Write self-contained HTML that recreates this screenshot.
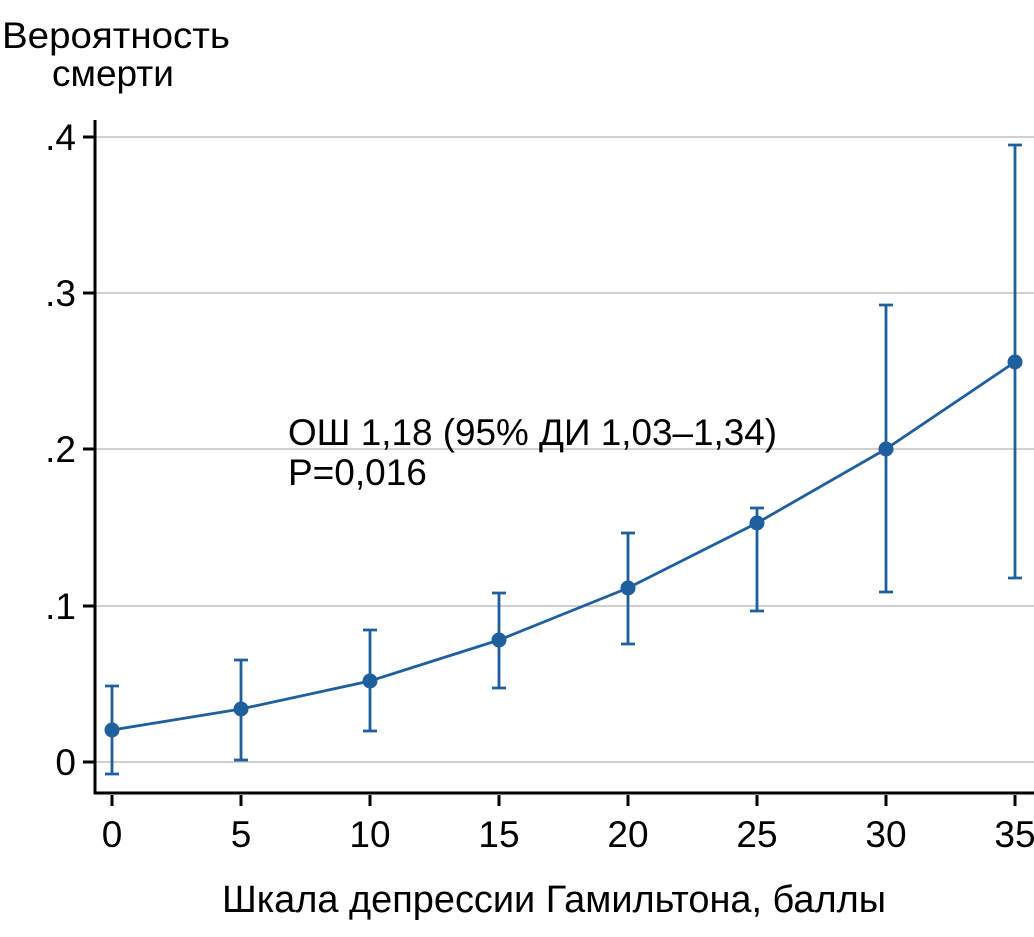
<!DOCTYPE html>
<html><head><meta charset="utf-8"><style>body{margin:0;background:#fff}</style></head><body>
<svg width="1034" height="932" xmlns="http://www.w3.org/2000/svg" font-family="'Liberation Sans', sans-serif">
<rect width="1034" height="932" fill="#fff"/>
<g stroke="#b4b4b4" stroke-width="1.3">
<line x1="96" x2="1034" y1="137" y2="137"/><line x1="96" x2="1034" y1="293" y2="293"/>
<line x1="96" x2="1034" y1="449" y2="449"/><line x1="96" x2="1034" y1="606" y2="606"/>
<line x1="96" x2="1034" y1="762" y2="762"/></g>
<g stroke="#000" stroke-width="3">
<polyline fill="none" points="95,120 95,793 1034,793"/>
<line x1="83" x2="95" y1="137" y2="137"/><line x1="83" x2="95" y1="293" y2="293"/>
<line x1="83" x2="95" y1="449" y2="449"/><line x1="83" x2="95" y1="606" y2="606"/>
<line x1="83" x2="95" y1="762" y2="762"/>
<line x1="112" x2="112" y1="795" y2="806"/><line x1="241" x2="241" y1="795" y2="806"/>
<line x1="370" x2="370" y1="795" y2="806"/><line x1="499" x2="499" y1="795" y2="806"/>
<line x1="628" x2="628" y1="795" y2="806"/><line x1="757" x2="757" y1="795" y2="806"/>
<line x1="886" x2="886" y1="795" y2="806"/><line x1="1015" x2="1015" y1="795" y2="806"/>
</g>
<g font-size="37" fill="#000" text-anchor="end">
<text x="76" y="150">.4</text><text x="76" y="306">.3</text><text x="76" y="462">.2</text><text x="76" y="619">.1</text><text x="76" y="775">0</text></g>
<g font-size="37" fill="#000" text-anchor="middle">
<text x="112" y="847">0</text><text x="241" y="847">5</text><text x="370" y="847">10</text><text x="499" y="847">15</text>
<text x="628" y="847">20</text><text x="757" y="847">25</text><text x="886" y="847">30</text><text x="1015" y="847">35</text>
<text x="554" y="912" font-size="38" textLength="664" lengthAdjust="spacingAndGlyphs">Шкала депрессии Гамильтона, баллы</text></g>
<g font-size="37" fill="#000"><text x="2" y="48" textLength="228" lengthAdjust="spacingAndGlyphs">Вероятность</text><text x="52" y="86">смерти</text>
<text x="288" y="445" textLength="489" lengthAdjust="spacingAndGlyphs">ОШ 1,18 (95% ДИ 1,03–1,34)</text><text x="288" y="485">P=0,016</text></g>
<g stroke="#1f5f9e" stroke-width="2.8" fill="none">
<path d="M112,686V774M105,686h14M105,774h14"/>
<path d="M241,660V760M234,660h14M234,760h14"/>
<path d="M370,630V731M363,630h14M363,731h14"/>
<path d="M499,593V688M492,593h14M492,688h14"/>
<path d="M628,533V644M621,533h14M621,644h14"/>
<path d="M757,508V611M750,508h14M750,611h14"/>
<path d="M886,305V592M879,305h14M879,592h14"/>
<path d="M1015,145V578M1008,145h14M1008,578h14"/>
<polyline points="112,730 241,709 370,681 499,640 628,588 757,523 886,449 1015,362"/>
</g>
<g fill="#1f5f9e">
<circle cx="112" cy="730" r="7.5"/><circle cx="241" cy="709" r="7.5"/><circle cx="370" cy="681" r="7.5"/>
<circle cx="499" cy="640" r="7.5"/><circle cx="628" cy="588" r="7.5"/><circle cx="757" cy="523" r="7.5"/>
<circle cx="886" cy="449" r="7.5"/><circle cx="1015" cy="362" r="7.5"/></g>
</svg></body></html>
